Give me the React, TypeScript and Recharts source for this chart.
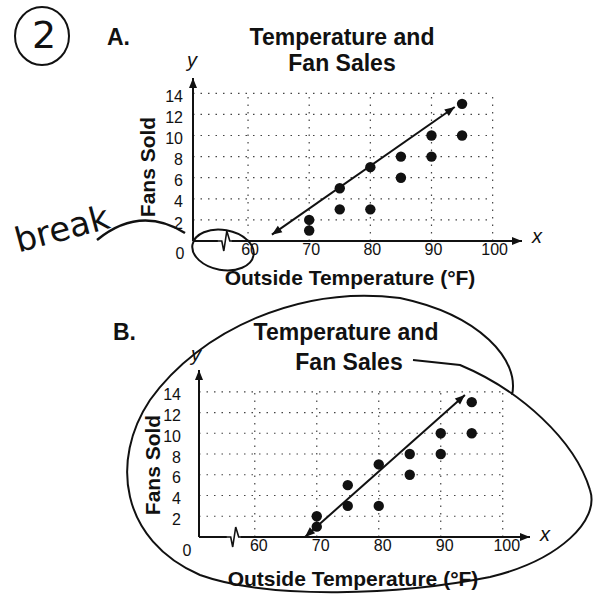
import React from 'react'
import { ReferenceDot, ReferenceLine, Scatter, ScatterChart, XAxis, YAxis } from 'recharts'

// data read from the worksheet (same points in A and B)
const temps = [70, 70, 75, 75, 80, 80, 85, 85, 90, 90, 95, 95]
const fansSold = [1, 2, 3, 5, 3, 7, 6, 8, 8, 10, 10, 13]
const xTicks = [60, 70, 80, 90, 100]
const yTicks = [0, 2, 4, 6, 8, 10, 12, 14]
const gridY = [2, 4, 6, 8, 10, 12, 14]
const gridX = [60, 70, 80, 90, 100]
const titleLines = ['Temperature and', 'Fan Sales']
// hand-drawn trend lines (start, end)
const trendA = [{ x: 63.9, y: 0.6 }, { x: 93.8, y: 12.7 }]
const trendB = [{ x: 68.1, y: 0 }, { x: 93.9, y: 13.7 }]

const points = temps.map((t, i) => ({ temp: t, fans: fansSold[i] }))

const INK = '#111'
const FONT = '"Liberation Sans", Arial, sans-serif'

function arrowHead(x1: number, y1: number, x2: number, y2: number) {
  const a = Math.atan2(y2 - y1, x2 - x1)
  const len = 10
  const w = 4
  const bx = x2 - len * Math.cos(a)
  const by = y2 - len * Math.sin(a)
  const px = -Math.sin(a) * w
  const py = Math.cos(a) * w
  return `M${x2},${y2} L${bx + px},${by + py} L${bx - px},${by - py} Z`
}

const arrowLine = (both: boolean, width = 2) => (p: any) => (
  <g>
    <line x1={p.x1} y1={p.y1} x2={p.x2} y2={p.y2} stroke={INK} strokeWidth={width} />
    <path d={arrowHead(p.x1, p.y1, p.x2, p.y2)} fill={INK} />
    {both && <path d={arrowHead(p.x2, p.y2, p.x1, p.y1)} fill={INK} />}
  </g>
)

const zigzag = (p: any) => (
  <g>
    <line x1={p.cx - 7} y1={p.cy} x2={p.cx + 7} y2={p.cy} stroke="#fff" strokeWidth={4} />
    <path
      d={`M${p.cx - 8},${p.cy} L${p.cx - 3},${p.cy} L${p.cx - 1},${p.cy + 10} L${p.cx + 2},${p.cy - 10} L${p.cx + 5},${p.cy} L${p.cx + 9},${p.cy}`}
      fill="none"
      stroke={INK}
      strokeWidth={1.6}
    />
  </g>
)

const dot = (p: any) => <circle cx={p.cx} cy={p.cy} r={5.2} fill={INK} />

const makeXTick = (dx: number) => (p: any) => (
  <text x={p.x + dx} y={p.y} dy="0.71em" textAnchor="middle" fontSize={16} fontFamily={FONT} fill={INK}>
    {p.payload.value}
  </text>
)

const makeYTick = (zeroDx: number, zeroDy: number) => (p: any) =>
  p.payload.value === 0 ? (
    <text x={p.x + zeroDx} y={p.y + zeroDy} dy="0.355em" textAnchor="middle" fontSize={16} fontFamily={FONT} fill={INK}>
      0
    </text>
  ) : (
    <text x={p.x} y={p.y + 3} dy="0.355em" textAnchor="end" fontSize={16} fontFamily={FONT} fill={INK}>
      {p.payload.value}
    </text>
  )

type PanelProps = {
  top: number
  height: number
  margin: { top: number; right: number; bottom: number; left: number }
  xMax: number
  yMax: number
  yTickMargin: number
  xTickDx: number
  zeroDx: number
  zeroDy: number
  trend: { x: number; y: number }[]
  breakAt: number
}

function Panel(props: PanelProps) {
  const { top, height, margin, xMax, yMax, trend } = props
  return (
    <div style={{ position: 'absolute', left: 0, top }}>
      <ScatterChart width={605} height={height} margin={margin}>
        <XAxis
          type="number"
          dataKey="temp"
          domain={[51, xMax]}
          ticks={xTicks}
          interval={0}
          allowDataOverflow
          axisLine={false}
          tickLine={false}
          tickSize={0}
          tickMargin={3}
          height={20}
          tick={makeXTick(props.xTickDx)}
        />
        <YAxis
          type="number"
          dataKey="fans"
          domain={[0, yMax]}
          ticks={yTicks}
          interval={0}
          allowDataOverflow
          axisLine={false}
          tickLine={false}
          tickSize={0}
          tickMargin={props.yTickMargin}
          width={30}
          tick={makeYTick(props.zeroDx, props.zeroDy)}
        />
        {gridY.map((v) => (
          <ReferenceLine
            key={'h' + v}
            segment={[{ x: 51, y: v }, { x: 100, y: v }]}
            stroke="#444"
            strokeWidth={1.2}
            strokeDasharray="1.5 6"
            ifOverflow="visible"
          />
        ))}
        {gridX.map((v) => (
          <ReferenceLine
            key={'v' + v}
            segment={[{ x: v, y: 0 }, { x: v, y: 14 }]}
            stroke="#444"
            strokeWidth={1.2}
            strokeDasharray="1.5 6"
            ifOverflow="visible"
          />
        ))}
        <ReferenceLine segment={[{ x: 51, y: 0 }, { x: xMax, y: 0 }]} shape={arrowLine(false, 2)} ifOverflow="visible" />
        <ReferenceLine segment={[{ x: 51, y: 0 }, { x: 51, y: yMax }]} shape={arrowLine(false, 2)} ifOverflow="visible" />
        <ReferenceDot x={props.breakAt} y={0} shape={zigzag} ifOverflow="visible" />
        <Scatter data={points} shape={dot} isAnimationActive={false} />
        <ReferenceLine segment={[trend[0], trend[1]]} shape={arrowLine(true, 2)} ifOverflow="visible" />
      </ScatterChart>
    </div>
  )
}

const labelStyle = { fontFamily: FONT, fontWeight: 700, fill: INK } as const

export default function App() {
  return (
    <div style={{ position: 'absolute', left: 0, top: 0, width: 605, height: 613, background: '#fff', overflow: 'hidden' }}>
      <Panel
        top={0}
        height={300}
        margin={{ top: 78, right: 83, bottom: 39, left: 163 }}
        xMax={104.8}
        yMax={15.45}
        yTickMargin={10}
        xTickDx={2}
        zeroDx={-3}
        zeroDy={12}
        trend={trendA}
        breakAt={56.2}
      />
      <Panel
        top={300}
        height={313}
        margin={{ top: 70, right: 75, bottom: 56, left: 169 }}
        xMax={104.4}
        yMax={16.1}
        yTickMargin={18}
        xTickDx={4}
        zeroDx={6}
        zeroDy={13}
        trend={trendB}
        breakAt={56.6}
      />
      <svg width={605} height={613} style={{ position: 'absolute', left: 0, top: 0, pointerEvents: 'none' }}>
        {/* panel A text */}
        <text x={107} y={45} fontSize={23} {...labelStyle}>A.</text>
        <text x={342} y={45} fontSize={23} textAnchor="middle" {...labelStyle}>{titleLines[0]}</text>
        <text x={342} y={71} fontSize={23} textAnchor="middle" {...labelStyle}>{titleLines[1]}</text>
        <text x={350} y={285} fontSize={21} textAnchor="middle" {...labelStyle}>Outside Temperature (°F)</text>
        <text transform="translate(155,167) rotate(-90)" fontSize={21} textAnchor="middle" {...labelStyle}>Fans Sold</text>
        <text x={192} y={67} fontSize={20} fontStyle="italic" textAnchor="middle" fontFamily={FONT} fill={INK}>y</text>
        <text x={537} y={243} fontSize={20} fontStyle="italic" textAnchor="middle" fontFamily={FONT} fill={INK}>x</text>

        {/* panel B text */}
        <text x={113} y={340} fontSize={23} {...labelStyle}>B.</text>
        <text x={346} y={340} fontSize={23} textAnchor="middle" {...labelStyle}>{titleLines[0]}</text>
        <text x={349} y={370} fontSize={23} textAnchor="middle" {...labelStyle}>{titleLines[1]}</text>
        <text x={353} y={586} fontSize={21} textAnchor="middle" {...labelStyle}>Outside Temperature (°F)</text>
        <text transform="translate(160,465) rotate(-90)" fontSize={21} textAnchor="middle" {...labelStyle}>Fans Sold</text>
        <text x={196} y={361} fontSize={20} fontStyle="italic" textAnchor="middle" fontFamily={FONT} fill={INK}>y</text>
        <text x={545} y={541} fontSize={20} fontStyle="italic" textAnchor="middle" fontFamily={FONT} fill={INK}>x</text>

        {/* handwritten notes */}
        <ellipse cx={42} cy={36} rx={27} ry={29} fill="none" stroke={INK} strokeWidth={2} />
        <text x={44} y={48} fontSize={38} textAnchor="middle" fontFamily='"DejaVu Sans", sans-serif' fill={INK}>2</text>
        <text transform="translate(65,240) rotate(-15)" fontSize={34} textAnchor="middle" fontFamily='"DejaVu Sans", sans-serif' fill={INK}>break</text>
        <path d="M97,240 Q140,205 185,233" fill="none" stroke={INK} strokeWidth={2.5} />
        <ellipse cx={223} cy={250} rx={31} ry={20} transform="rotate(10 223 250)" fill="none" stroke={INK} strokeWidth={2} />
        <path
          d="M512,395 C520,360 480,315 400,298 C300,285 200,330 150,400 C110,460 120,540 200,575 C270,600 400,595 490,577 C560,560 600,520 590,490 C575,440 520,390 460,365 L413,360"
          fill="none"
          stroke={INK}
          strokeWidth={2}
        />
      </svg>
    </div>
  )
}
